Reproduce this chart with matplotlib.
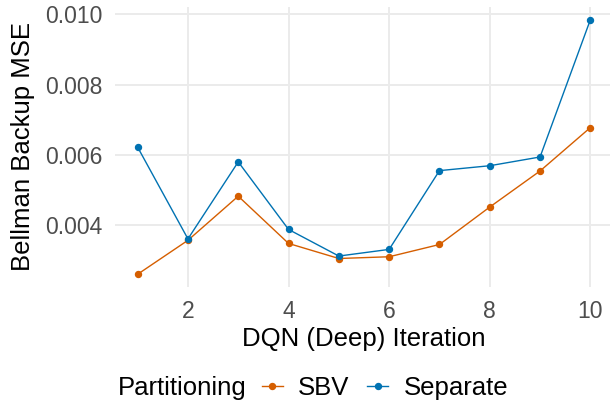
import matplotlib
matplotlib.use("Agg")
import matplotlib.pyplot as plt
from matplotlib.lines import Line2D
from matplotlib.offsetbox import HPacker

plt.rcParams['font.family'] = ['Liberation Sans', 'DejaVu Sans']

iterations = [1, 2, 3, 4, 5, 6, 7, 8, 9, 10]
sbv = [0.00258, 0.00355, 0.00481, 0.00346, 0.00303, 0.00308, 0.00343, 0.00450, 0.00553, 0.00677]
separate = [0.00621, 0.00359, 0.00579, 0.00386, 0.00310, 0.00329, 0.00554, 0.00568, 0.00593, 0.00985]
x_ticks = [2, 4, 6, 8, 10]
y_ticks = [0.004, 0.006, 0.008, 0.010]

c_sbv = '#D55E00'
c_sep = '#0072B2'

fig = plt.figure(figsize=(6.1, 4.09), dpi=100)
ax = fig.add_axes([115 / 610, 1 - 287 / 409, 498 / 610, 280 / 409])

ax.plot(iterations, sbv, color=c_sbv, lw=1.0, marker='o', ms=4.3, zorder=3)
ax.plot(iterations, separate, color=c_sep, lw=1.0, marker='o', ms=4.3, zorder=3)

ax.set_xlim(0.55, 10.45)
ax.set_ylim(0.002216, 0.010214)
ax.set_xticks(x_ticks)
ax.set_xticklabels([str(t) for t in x_ticks])
ax.set_yticks(y_ticks)
ax.set_yticklabels([f'{t:.3f}' for t in y_ticks])
ax.grid(True, color='#EBEBEB', lw=1.4)
ax.set_axisbelow(True)
for s in ax.spines.values():
    s.set_visible(False)
ax.tick_params(length=0, labelsize=16.5, labelcolor='#4D4D4D', pad=9)

ax.set_xlabel('DQN (Deep) Iteration', fontsize=18.5, labelpad=3)
ax.set_ylabel('Bellman Backup MSE', fontsize=18.5, labelpad=7)

handles = [Line2D([], [], color=c_sbv, lw=1.0, marker='o', ms=4.3),
           Line2D([], [], color=c_sep, lw=1.0, marker='o', ms=4.3)]
leg = fig.legend(handles, ['SBV', 'Separate'], title='Partitioning', loc='center',
                 bbox_to_anchor=(313 / 610, 1 - 388 / 409), ncol=2, frameon=False,
                 fontsize=18.5, title_fontsize=18.5, handlelength=0.8, handletextpad=0.6,
                 columnspacing=0.7, borderpad=0)
# put the title on the same row as the entries
box = leg._legend_box
box.__class__ = HPacker
box.sep = 11
box.align = 'center'

fig.savefig('out.png', dpi=100)
